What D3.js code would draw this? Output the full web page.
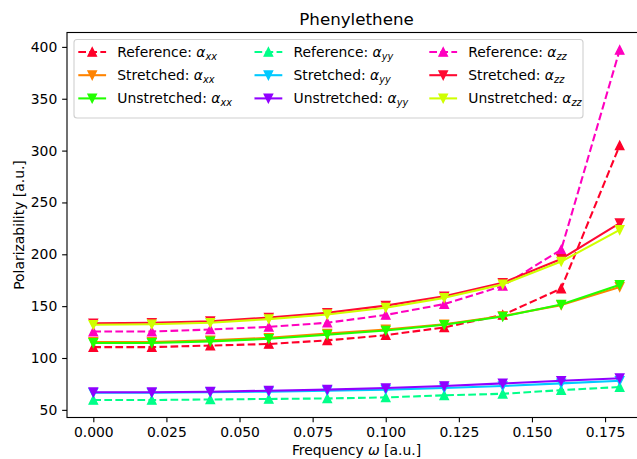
<!DOCTYPE html>
<html>
<head>
<meta charset="utf-8">
<script src="https://cdn.jsdelivr.net/npm/d3@7"></script>
<style>
  html, body { margin: 0; padding: 0; background: #fff; }
  svg { display: block; font-family: "DejaVu Sans", sans-serif; }
</style>
</head>
<body>
<svg id="chart" width="637" height="459"></svg>
<script>
// Frequencies (a.u.)
const frequency = [0.00, 0.02, 0.04, 0.06, 0.08, 0.10, 0.12, 0.14, 0.16, 0.18];

// Polarizability components (a.u.)
const referenceXX   = [110.5, 110.5, 112, 113.5, 117, 122, 129.5, 141.5, 167, 305];
const stretchedXX   = [115.5, 115.5, 117, 119.5, 123.5, 127.5, 132.5, 140.5, 151, 168.5];
const unstretchedXX = [114.5, 114.5, 116, 118.5, 122.5, 126.5, 132, 140, 151.5, 170.5];

const referenceYY   = [59.5, 59.5, 60, 60.5, 61, 62, 64, 65.5, 69, 72];
const stretchedYY   = [66.5, 66.5, 67, 67.5, 68.5, 69.5, 71, 73, 75.5, 78];
const unstretchedYY = [67, 67, 67.5, 68.5, 69.5, 71, 73, 75.5, 78, 80.5];

const referenceZZ   = [125.5, 125.5, 127.5, 130, 134, 141.5, 152, 169.5, 204.5, 397];
const stretchedZZ   = [133.5, 134, 135.5, 139, 143.5, 150.5, 159.5, 172.5, 195.5, 230];
const unstretchedZZ = [132, 132.5, 134, 137.5, 142, 148.5, 158, 171, 193, 223.5];

// Tick values
const xTicks = [0, 0.025, 0.05, 0.075, 0.1, 0.125, 0.15, 0.175];
const yTicks = [50, 100, 150, 200, 250, 300, 350, 400];

// Plot order (also the legend order, filled column by column)
const series = [
  { method: "Reference",   comp: "xx", values: referenceXX,   color: "#ff0029", dashed: true,  up: true  },
  { method: "Stretched",   comp: "xx", values: stretchedXX,   color: "#ff8300", dashed: false, up: false },
  { method: "Unstretched", comp: "xx", values: unstretchedXX, color: "#22ff00", dashed: false, up: false },
  { method: "Reference",   comp: "yy", values: referenceYY,   color: "#00ff89", dashed: true,  up: true  },
  { method: "Stretched",   comp: "yy", values: stretchedYY,   color: "#00c9ff", dashed: false, up: false },
  { method: "Unstretched", comp: "yy", values: unstretchedYY, color: "#9100ff", dashed: false, up: false },
  { method: "Reference",   comp: "zz", values: referenceZZ,   color: "#ff00bf", dashed: true,  up: true  },
  { method: "Stretched",   comp: "zz", values: stretchedZZ,   color: "#ff0a33", dashed: false, up: false },
  { method: "Unstretched", comp: "zz", values: unstretchedZZ, color: "#cfff00", dashed: false, up: false }
];

const W = 637, H = 459;
const plot = { left: 67, right: 646, top: 32.5, bottom: 417.5 };
const FS = 13.9;          // 10 pt
const LW = 2.08;          // 1.5 pt
const MR = 4.17;          // half of a 6 pt marker
const MEW = 1.39;         // marker edge width
const DASH = "7.7,3.33";
const TICK = 4.86, PAD = 4.86;

const svg = d3.select("#chart");

// Scales with 5% data margins on both axes
const xMin = d3.min(frequency), xMax = d3.max(frequency);
const xm = (xMax - xMin) * 0.05;
const x = d3.scaleLinear().domain([xMin - xm, xMax + xm]).range([plot.left, plot.right]);

const allY = series.flatMap(s => s.values);
const yMin = d3.min(allY), yMax = d3.max(allY);
const ym = (yMax - yMin) * 0.05;
const y = d3.scaleLinear().domain([yMin - ym, yMax + ym]).range([plot.bottom, plot.top]);

function triangle(up, r) {
  return up ? `M0,${-r}L${-r},${r}L${r},${r}Z` : `M0,${r}L${-r},${-r}L${r},${-r}Z`;
}

// Data lines and markers
const line = d3.line().x((d, i) => x(frequency[i])).y(d => y(d));
const gData = svg.append("g");
series.forEach(s => {
  const g = gData.append("g");
  g.append("path")
    .attr("d", line(s.values))
    .attr("fill", "none")
    .attr("stroke", s.color)
    .attr("stroke-width", LW)
    .attr("stroke-linejoin", "round")
    .attr("stroke-linecap", s.dashed ? "butt" : "square")
    .attr("stroke-dasharray", s.dashed ? DASH : null);
  g.selectAll("path.m").data(s.values).join("path")
    .attr("class", "m")
    .attr("d", triangle(s.up, MR))
    .attr("transform", (d, i) => `translate(${x(frequency[i])},${y(d)})`)
    .attr("fill", s.color)
    .attr("stroke", s.color)
    .attr("stroke-width", MEW);
});

// Axes frame
svg.append("rect")
  .attr("x", plot.left).attr("y", plot.top)
  .attr("width", plot.right - plot.left).attr("height", plot.bottom - plot.top)
  .attr("fill", "none").attr("stroke", "#000").attr("stroke-width", 1.11);

// X axis
const xAxis = d3.axisBottom(x).tickValues(xTicks).tickFormat(d3.format(".3f"))
  .tickSize(TICK).tickPadding(PAD);
const gx = svg.append("g").attr("transform", `translate(0,${plot.bottom})`).call(xAxis);
gx.select(".domain").remove();
gx.selectAll(".tick line").attr("stroke", "#000").attr("stroke-width", 1.11);
gx.selectAll(".tick text").attr("font-size", FS).attr("font-family", "DejaVu Sans").attr("fill", "#000");

// Y axis
const yAxis = d3.axisLeft(y).tickValues(yTicks).tickFormat(d3.format("d"))
  .tickSize(TICK).tickPadding(PAD);
const gy = svg.append("g").attr("transform", `translate(${plot.left},0)`).call(yAxis);
gy.select(".domain").remove();
gy.selectAll(".tick line").attr("stroke", "#000").attr("stroke-width", 1.11);
gy.selectAll(".tick text").attr("font-size", FS).attr("font-family", "DejaVu Sans").attr("fill", "#000");

// Title
svg.append("text")
  .attr("x", (plot.left + plot.right) / 2).attr("y", 25)
  .attr("text-anchor", "middle").attr("font-size", 16.7).attr("fill", "#000")
  .text("Phenylethene");

// Axis labels
const xl = svg.append("text")
  .attr("x", (plot.left + plot.right) / 2).attr("y", 455)
  .attr("text-anchor", "middle").attr("font-size", FS).attr("fill", "#000");
xl.append("tspan").text("Frequency ");
xl.append("tspan").attr("font-style", "italic").text("ω");
xl.append("tspan").text(" [a.u.]");

svg.append("text")
  .attr("transform", `translate(24,${(plot.top + plot.bottom) / 2}) rotate(-90)`)
  .attr("text-anchor", "middle").attr("font-size", FS).attr("fill", "#000")
  .text("Polarizability [a.u.]");

// Legend
const legend = { x: 74, y: 39.5, w: 509, h: 78.5 };
const colX = [78.3, 254.5, 429.3];
const rowY = [52, 75.2, 98.4];
const handleLen = 27.8, textGap = 11.2;

svg.append("rect")
  .attr("x", legend.x).attr("y", legend.y)
  .attr("width", legend.w).attr("height", legend.h)
  .attr("rx", 3).attr("ry", 3)
  .attr("fill", "#fff").attr("fill-opacity", 0.8)
  .attr("stroke", "#d0d0d0").attr("stroke-width", 1.11);

series.forEach((s, i) => {
  const cx = colX[Math.floor(i / 3)], cy = rowY[i % 3];
  const g = svg.append("g");
  g.append("line")
    .attr("x1", cx).attr("x2", cx + handleLen)
    .attr("y1", cy).attr("y2", cy)
    .attr("stroke", s.color).attr("stroke-width", LW)
    .attr("stroke-dasharray", s.dashed ? DASH : null);
  g.append("path")
    .attr("d", triangle(s.up, MR))
    .attr("transform", `translate(${cx + handleLen / 2},${cy})`)
    .attr("fill", s.color).attr("stroke", s.color).attr("stroke-width", MEW);
  const t = g.append("text")
    .attr("x", cx + handleLen + textGap).attr("y", cy + 4.8)
    .attr("font-size", FS).attr("fill", "#000");
  t.append("tspan").text(s.method + ": ");
  t.append("tspan").attr("font-style", "italic").text("α");
  t.append("tspan").attr("font-style", "italic").attr("font-size", FS * 0.7).attr("dy", 3).text(s.comp);
});
</script>
</body>
</html>
